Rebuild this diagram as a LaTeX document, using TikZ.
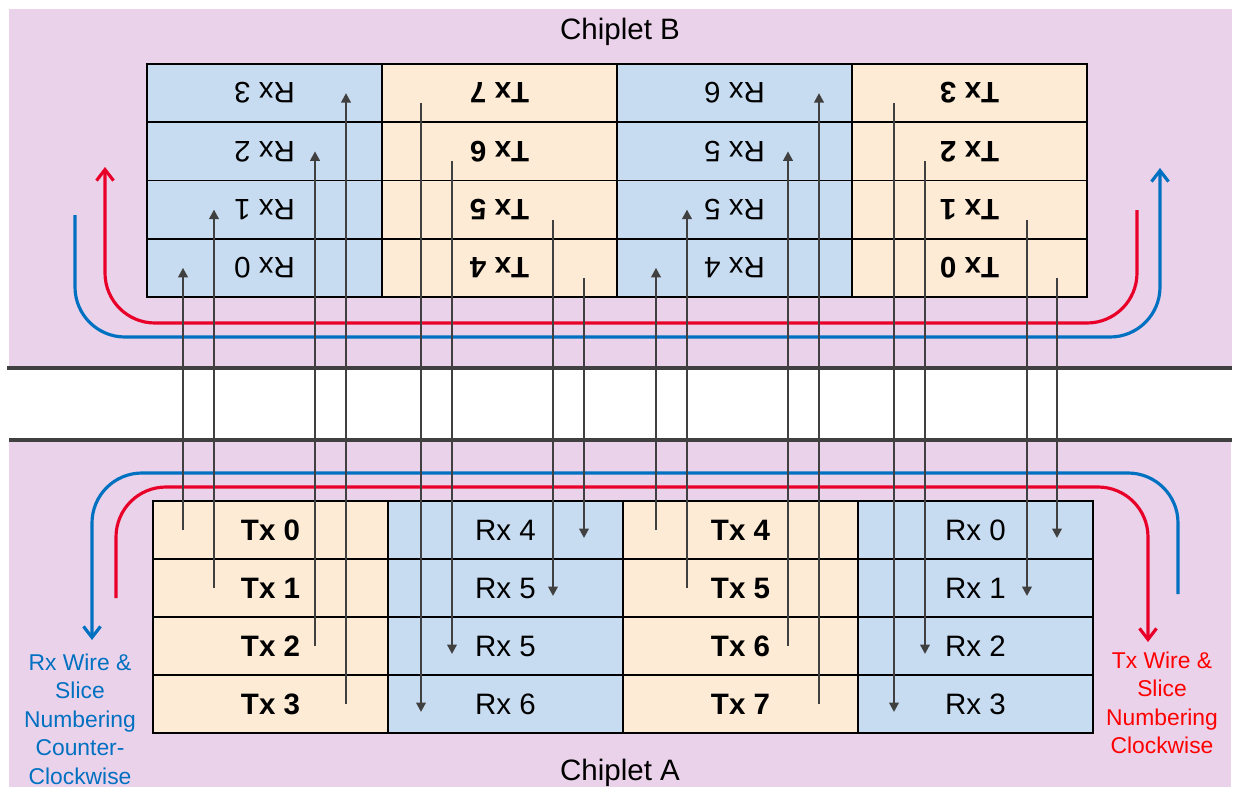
\documentclass[tikz,border=0pt]{standalone}
\usepackage{fontspec}
\setmainfont{Liberation Sans}
\usetikzlibrary{arrows.meta}
\definecolor{chipbg}{RGB}{235,210,235}
\definecolor{rxblue}{RGB}{200,220,241}
\definecolor{txorange}{RGB}{253,235,213}
\definecolor{wiregray}{RGB}{64,64,64}
\definecolor{ccwblue}{RGB}{0,112,192}
\definecolor{cwred}{RGB}{232,0,40}
\begin{document}
\begin{tikzpicture}[x=0.02cm,y=-0.02cm,>={Triangle[length=1.9mm,width=1.9mm]},
  cell/.style={draw,line width=1.1pt,minimum width=4.7cm,minimum height=1.165cm,inner sep=0pt,font=\fontsize{16.8}{20}\selectfont},
  rxcell/.style={cell,fill=rxblue},
  txcell/.style={cell,fill=txorange,font=\fontsize{16.8}{20}\selectfont\bfseries},
  wire/.style={wiregray,line width=1.3pt,->},
  ring/.style={line width=1.8pt,rounded corners=1cm,-{Straight Barb[length=2.2mm,width=3.4mm]}},
  note/.style={align=center,font=\fontsize{13}{16.2}\selectfont}]

\useasboundingbox (0,0) rectangle (1242,795);

% The two chiplets
\fill[chipbg] (9,9) rectangle (1232,366);
\fill[chipbg] (9,440) rectangle (1231,787);
\draw[wiregray,line width=2.6pt] (7,368) -- (1232,368);
\draw[wiregray,line width=2.6pt] (9,440) -- (1232,440);
\node[font=\fontsize{16.8}{20}\selectfont,anchor=base] (chipb) at (620,39) {Chiplet B};
\node[font=\fontsize{16.8}{20}\selectfont,anchor=base] (chipa) at (620,780) {Chiplet A};

% Numbering directions
\draw[ring,cwred] (1137,210) -- (1137,323) -- (105,323) -- (105,167);
\draw[ring,ccwblue] (75,215) -- (75,337) -- (1160,337) -- (1160,168);
\draw[ring,ccwblue] (1178,594) -- (1178,473) -- (92,473) -- (92,640);
\draw[ring,cwred] (116,598) -- (116,487) -- (1148,487) -- (1148,642);

\node[note,text=ccwblue] (rxnote) at (80,719) {Rx Wire \&\\Slice\\Numbering\\Counter-\\Clockwise};
\node[note,text=red] (txnote) at (1162,703) {Tx Wire \&\\Slice\\Numbering\\Clockwise};

% Chiplet B slices (upside down)
\foreach \c/\sty/\kind/\nums in {0/rxcell/Rx/{3,2,1,0},1/txcell/Tx/{7,6,5,4},2/rxcell/Rx/{6,5,5,4},3/txcell/Tx/{3,2,1,0}}
  \foreach \n [count=\r from 0] in \nums
    \node[\sty,rotate=180] (b\c\r) at (264.5+235*\c,93.1+58.25*\r) {\kind{} \n};

% Chiplet A slices
\foreach \c/\sty/\kind/\nums in {0/txcell/Tx/{0,1,2,3},1/rxcell/Rx/{4,5,5,6},2/txcell/Tx/{4,5,6,7},3/rxcell/Rx/{0,1,2,3}}
  \foreach \n [count=\r from 0] in \nums
    \node[\sty] (a\c\r) at (270.5+235*\c,530+58*\r) {\kind{} \n};

% Wires A to B
\foreach \x/\from/\to in {183/a00/b03,214/a01/b02,315/a02/b01,346/a03/b00,656/a20/b23,687/a21/b22,788/a22/b21,819/a23/b20}
  \draw[wire] (\x,0 |- \from) -- (\x,0 |- \to);

% Wires B to A
\foreach \x/\from/\to in {421/b10/a13,452/b11/a12,553/b12/a11,584/b13/a10,894/b30/a33,925/b31/a32,1027/b32/a31,1057/b33/a30}
  \draw[wire] ([yshift=-0.2cm]\x,0 |- \from) -- ([yshift=-0.16cm]\x,0 |- \to);

\end{tikzpicture}
\end{document}
